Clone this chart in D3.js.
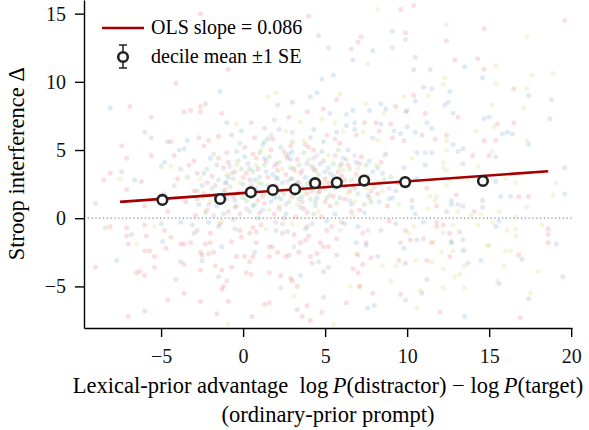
<!DOCTYPE html>
<html>
<head>
<meta charset="utf-8">
<script src="https://cdn.jsdelivr.net/npm/d3@7"></script>
<style>
  body { margin: 0; background: #fff; }
  svg { font-family: "Liberation Serif", "Times New Roman", serif; }
</style>
</head>
<body>
<div id="chart"></div>
<script>
/* Stroop interference vs lexical-prior advantage, scatter + OLS + decile means */

// decile means (x = bin mean, y = mean delta, se = standard error)
const decileX  = [-4.92, -1.40, 0.47, 1.81, 3.17, 4.39, 5.71, 7.38, 9.88, 14.62];
const decileY  = [1.34, 1.41, 1.90, 2.07, 2.12, 2.57, 2.61, 2.76, 2.65, 2.73];
const decileSE = [0.30, 0.22, 0.20, 0.20, 0.20, 0.20, 0.21, 0.22, 0.24, 0.30];

// OLS fit
const olsSlope = 0.086, olsIntercept = 1.845;
const olsRange = [-7.5, 18.6];

const xTicks = [-5, 0, 5, 10, 15, 20];
const yTicks = [-5, 0, 5, 10, 15];

// faint background points, grouped by colour, [x, y]
const redPts = [[-2.6,15.0],[4.0,14.8],[9.6,15.3],[10.4,15.6],[19.6,14.5],[14.7,13.9],[12.4,13.0],[7.2,13.3],[9.9,13.6],[6.6,12.4],[7.0,12.9],[12.9,11.6],[14.3,11.7],[14.7,10.9],[-0.9,10.9],[-4.1,9.9],[16.5,9.5],[10.4,9.0],[2.1,8.3],[3.0,8.5],[5.7,8.7],[9.3,8.2],[-6.9,8.2],[-3.6,7.8],[-3.2,7.9],[-2.6,8.2],[-2.3,8.4],[-2.6,7.8],[-1.3,7.7],[3.9,7.8],[4.9,8.0],[9.9,7.8],[11.1,7.7],[13.1,7.4],[-5.6,7.4],[2.8,7.4],[0.5,7.0],[8.1,7.0],[9.0,6.9],[7.4,7.0],[15.5,6.9],[16.5,7.0],[1.3,6.6],
  [-7.4,5.3],[-4.4,5.6],[-2.7,5.9],[-2.1,5.7],[-2.4,5.3],[-1.5,6.0],[-0.7,6.1],[-7.1,4.4],[-5.6,4.6],[-4.2,4.6],[0.7,5.9],[1.8,5.8],[5.1,6.1],[5.6,5.8],[6.9,6.1],[8.3,6.4],[9.8,5.7],[9.1,5.9],[10.9,6.1],[11.7,5.8],[12.4,6.1],[14.7,5.7],[15.4,5.7],[14.0,4.6],[15.0,4.6],[-1.0,4.8],[2.5,4.9],[4.0,5.2],[7.2,4.5],[-3.0,4.2],[0.8,4.4],[3.3,4.3],[6.0,4.0],
  [-8.5,2.8],[-8.1,3.3],[-6.2,2.7],[-7.1,2.1],[-5.0,1.7],[-4.0,2.9],[-3.5,1.2],[-2.8,3.3],[-2.2,0.6],[-1.7,2.4],[-1.2,3.7],[-0.6,1.6],[-0.2,0.3],[0.4,2.8],[0.9,3.6],[1.3,1.1],[1.7,2.2],[2.2,0.7],[2.6,3.2],[3.0,1.6],[3.4,2.6],[3.9,0.4],[4.2,3.8],[4.6,1.9],[5.0,2.9],[5.3,0.9],[5.8,3.4],[6.2,1.4],[6.7,2.4],[7.1,0.6],[7.6,3.1],[8.2,1.8],[8.8,0.9],[9.4,2.6],[10.3,1.3],[11.2,2.2],[11.8,0.9],[13.0,1.7],[14.6,1.3],[14.1,0.5],[17.4,1.6],[16.8,1.6],[-4.6,0.5],[-6.0,0.9],[-3.0,2.0],[0.0,3.0],[2.0,4.0],[4.4,2.4],[6.4,3.9],[1.0,0.4],[-1.3,1.3],[3.6,1.2],
  [-2.9,0.2],[-2.4,1.8],[-1.9,3.1],[-1.4,-0.4],[-1.1,2.1],[-0.5,3.4],[-0.2,-0.9],[0.3,1.9],[0.6,4.7],[1.1,-0.5],[1.5,3.0],[1.9,0.3],[2.3,2.0],[2.7,4.4],[3.1,-1.2],[3.5,3.3],[3.9,1.8],[4.3,5.0],[4.8,0.1],[5.2,2.6],[5.6,4.6],[6.0,-0.3],[6.5,2.0],[6.9,3.2],[7.3,-1.1],[7.8,2.0],[8.4,4.1],[8.9,-0.2],[-3.3,3.9],[-2.0,-1.1],[0.1,5.2],[2.9,5.3],[4.0,-1.3],[5.9,5.5],[1.2,1.6],[3.2,0.1],[4.4,3.5],[6.2,2.8],[-0.9,0.5],[2.1,3.5],[0.5,2.4],[5.0,1.2],
  [-2.8,1.4],[-2.2,2.6],[-1.6,1.7],[-0.9,4.1],[-0.4,0.9],[0.2,3.3],[0.9,1.3],[1.4,4.2],[2.0,2.4],[2.5,0.0],[3.1,3.6],[3.7,0.7],[4.2,2.0],[4.9,4.2],[5.5,1.6],[6.0,3.1],[6.6,0.5],[7.1,4.0],[7.7,1.5],[8.3,2.6],[1.7,5.0],[3.8,5.4],[-1.5,4.4],[5.1,-0.9],[0.6,-0.7],
  [-9.0,-3.6],[-7.0,-7.2],[-6.0,-6.8],[-6.5,-4.0],[-6.3,-3.9],[-6.0,-4.2],[-5.4,-3.6],[-5.4,-2.8],[-6.0,-2.4],[-5.7,-2.4],[-7.0,-1.9],[-7.1,-1.3],[-7.1,-0.7],[-8.1,-0.6],[-5.9,-1.3],[-6.0,-0.5],[-4.7,-2.2],[-4.1,-4.5],[-3.6,-5.5],[-3.6,-3.4],[-2.6,-6.1],[-2.6,-3.8],[-1.7,-3.5],[-1.3,-3.8],[-1.2,-5.0],[-1.3,-5.2],[-0.9,-6.1],[-0.7,-3.6],[-1.0,-4.6],[0.2,-4.0],[-0.4,-2.8],[-2.6,-2.5],[-1.8,-2.5],[-2.1,-2.6],[-2.5,-2.7],[-2.3,-1.9],[-2.0,-1.8],[-3.2,-1.8],[-3.6,-1.9],[-3.8,-1.9],[-4.4,-1.4],[-4.8,-0.9],[-2.8,-0.9],[-0.7,-1.7],[-0.1,-1.4],[0.1,-2.8],[0.55,-7.2],[1.3,-6.3],[1.6,-6.2],[3.3,-6.7],[3.6,-7.2],[4.1,-7.5],[3.9,-6.4],[4.8,-6.9],[4.9,-5.8],[9.6,-5.6],[7.9,-5.5],[0.5,-4.1],[1.6,-4.0],[2.3,-4.2],[3.0,-4.6],[3.3,-5.0],[2.9,-4.4],[4.9,-3.9],[7.1,-5.0],[6.7,-3.7],[7.0,-4.0],[7.3,-3.4],[9.5,-3.1],[9.9,-3.3],[7.8,-2.9],[7.0,-2.7],[5.7,-2.7],[4.9,-2.1],[5.2,-2.1],[4.5,-2.6],[4.1,-2.8],[4.2,-3.3],[3.4,-2.5],[2.8,-2.7],[2.6,-2.8],[2.1,-2.5],[1.6,-2.8],[1.6,-2.1],[1.8,-2.1],[0.6,-2.8],[0.4,-3.2],[3.5,-1.8],[3.8,-1.6],[5.7,-1.5],[7.5,-1.8],[9.6,-1.8],[4.7,-1.8],[2.4,-1.1],[3.9,-0.6],[5.4,-0.6],[9.9,-0.9],[0.8,-1.8],[0.4,-1.1],[0.8,-1.0],[12.0,-6.9],[16.9,-7.3],[11.2,-3.1],[12.6,-2.8],[16.8,-2.7],[11.0,-1.5],[11.5,-1.8],[12.6,-1.1],[13.2,-1.0],[10.2,-1.6],[18.6,-0.8],[18.6,-1.2],[18.6,-1.8],[11.8,-0.6],[11.8,-0.3],[12.2,-0.5],[-1.6,-7.0],[6.3,-6.2],[-4.6,-6.0]];

const bluePts = [[4.6,13.4],[9.1,13.7],[9.9,13.1],[5.2,12.5],[7.9,12.3],[6.7,11.6],[10.5,11.8],[13.5,11.1],[10.4,10.9],[11.4,10.9],[5.5,10.5],[4.8,10.2],[14.6,10.3],[-1.4,9.3],[11.0,9.6],[11.5,9.5],[4.5,9.2],[4.1,8.9],[17.4,9.0],[18.8,8.7],[10.5,8.6],[12.6,9.3],[12.5,8.5],[12.3,8.3],[-8.1,8.1],[8.4,8.4],[8.7,8.0],[6.3,7.6],[6.7,7.9],[7.7,7.9],[12.8,7.7],[5.3,7.7],[10.0,7.9],[14.7,7.3],[15.0,7.4],[18.7,7.3],[11.2,7.0],[-1.0,7.0],[1.9,7.2],[6.8,7.0],[6.3,6.8],[8.4,6.9],[9.2,6.4],[9.6,6.2],[10.0,6.7],[-6.0,6.3],[-5.6,5.9],[-4.6,5.6],[-3.4,5.7],[-0.1,6.4],[2.2,6.5],[3.0,6.3],[4.3,6.5],[5.7,6.3],[6.8,6.5],[7.9,5.9],[10.5,6.3],[11.5,6.6],[15.8,6.2],[16.1,6.3],[16.4,6.2],[17.4,5.4],[12.8,5.4],[13.1,4.9],[13.4,5.1],[15.4,4.5],[10.6,4.8],[11.1,4.8],[11.5,4.8],[11.1,3.9],[13.4,4.0],[19.6,3.7],[15.4,2.7],[1.2,5.4],[1.5,5.8],[-3.9,5.0],[-3.6,5.1],[-4.8,4.1],[-7.4,3.4],[-6.6,2.8],[-9.0,1.1],
  [-2.5,2.4],[-1.6,0.9],[-0.9,3.0],[-0.3,1.9],[0.3,4.0],[0.8,2.2],[1.4,3.4],[1.9,1.5],[2.4,2.6],[2.9,4.3],[3.5,0.8],[3.8,3.0],[4.5,1.5],[5.2,3.7],[5.6,2.2],[6.1,4.4],[6.6,1.0],[7.2,2.6],[7.7,4.2],[8.5,3.3],[9.1,1.5],[9.8,3.7],[10.6,2.9],[-3.8,3.6],[-2.0,4.4],[-1.2,0.3],[0.6,0.9],[3.2,2.0],[4.8,4.9],[-4.8,1.8],
  [-2.7,1.0],[-2.1,-0.3],[-1.6,3.9],[-1.0,1.4],[-0.6,-0.1],[0.0,2.5],[0.4,3.6],[0.9,0.0],[1.3,4.4],[1.7,1.2],[2.1,2.9],[2.6,0.3],[3.0,4.9],[3.4,1.4],[3.8,-0.8],[4.1,2.7],[4.7,4.0],[5.1,-0.2],[5.5,3.1],[5.9,1.5],[6.4,5.0],[6.8,2.2],[7.4,0.4],[7.9,3.4],[8.3,1.2],[8.7,4.7],[9.3,2.0],[-3.1,-0.5],[-0.4,4.9],[2.3,5.2],[4.9,5.6],[1.0,3.0],[3.6,2.2],
  [-2.4,3.3],[-1.8,0.2],[-1.1,2.6],[-0.5,1.3],[0.1,4.5],[0.7,2.8],[1.2,0.6],[1.8,3.2],[2.3,1.4],[2.8,4.7],[3.3,2.6],[3.9,4.0],[4.4,1.2],[5.0,3.4],[5.6,0.3],[6.2,2.3],[6.9,4.1],[7.6,1.7],[8.2,3.7],[8.9,1.4],[-0.2,5.5],[2.0,-0.9],[4.1,5.9],
  [15.7,1.6],[16.3,1.6],[19.6,1.8],[15.6,-0.2],[14.6,0.8],[13.4,0.9],[13.1,1.0],[12.7,1.0],[12.4,0.5],[10.5,0.3],[10.3,0.8],[12.7,1.3],
  [-7.7,-3.1],[-6.8,-1.2],[-3.8,-3.2],[-2.5,-3.1],[-1.5,-4.3],[-4.9,-1.7],[-5.0,-0.4],[-3.8,-0.3],[-3.0,-1.1],[-1.5,-0.6],[-1.3,-2.1],[-0.5,-0.8],[2.3,-5.1],[3.5,-4.2],[5.2,-3.6],[4.6,-3.2],[7.6,-6.6],[8.0,-6.4],[9.9,-6.0],[0.7,-2.5],[2.7,-1.0],[4.2,-0.4],[6.2,-0.4],[7.0,-0.6],[8.4,-0.9],[9.3,-0.4],[6.9,-1.8],[7.5,-2.0],[9.8,-2.2],[8.2,-2.8],[13.5,-7.2],[17.4,-5.9],[10.9,-5.5],[11.2,-4.5],[15.6,-4.8],[19.5,-4.3],[13.7,-3.3],[14.5,-3.1],[17.0,-3.0],[10.6,-1.6],[12.7,-1.8],[13.4,-1.6],[13.4,-2.4],[19.1,-1.9],[15.4,-0.6],[11.0,-0.3]];

const greenPts = [[-5.0,3.8],[-8.4,-0.7],[-2.8,2.0],[-2.2,3.6],[-1.5,2.8],[-0.8,2.3],[-0.3,4.2],[0.2,1.3],[0.6,3.4],[1.1,2.5],[1.6,4.5],[2.0,3.0],[2.5,1.8],[2.9,3.7],[3.3,2.3],[3.7,4.8],[4.1,1.4],[4.6,3.2],[5.0,2.2],[5.5,4.0],[6.0,2.7],[6.5,3.6],[7.0,1.8],[7.5,3.9],[8.0,2.3],[-1.8,4.7],[-3.4,3.0],[0.4,0.5],[1.3,5.6],[3.1,-2.1],[12.7,-1.7],[3.0,5.6],[5.8,5.0],[-0.5,0.8],[4.3,0.3],[9.0,3.0],[-4.2,2.4],[9.1,12.5],
  [-2.3,0.4],[-1.2,1.9],[-0.1,3.6],[0.7,1.0],[1.5,2.4],[2.2,4.1],[2.8,1.2],[3.4,3.9],[3.9,2.5],[4.4,0.9],[5.3,3.3],[5.7,1.1],[6.3,4.3],[7.2,3.0],[7.8,1.2],[8.6,2.8],[1.0,4.8],[-0.6,2.9],[2.4,-0.4],[4.7,2.0],
  [-1.9,2.2],[-0.7,3.3],[0.5,2.0],[1.3,3.9],[2.1,1.6],[2.9,2.9],[3.6,1.6],[4.3,3.6],[5.1,1.5],[5.9,3.8],[6.6,2.8],[7.4,1.0],[0.0,1.5],[2.6,4.6]];

const yellowPts = [[8.2,15.3],[7.6,11.3],[12.4,14.2],[17.3,13.3],[15.4,11.2],[18.9,10.6],[17.6,10.5],[12.3,10.3],[12.2,9.8],[15.4,9.9],[17.3,9.5],[11.3,9.0],[1.5,8.9],[2.0,9.2],[5.9,9.1],[9.8,8.9],[7.5,8.4],[15.2,8.3],[17.1,8.1],[8.6,7.7],[3.5,7.1],[4.8,7.3],[15.3,6.7],[14.2,6.4],[5.6,7.0],[-0.4,6.9],[17.3,5.7],[12.4,5.7],[12.4,5.0],[15.2,4.9],[10.3,4.4],[12.2,4.1],[12.2,3.7],[14.3,3.8],[12.4,3.5],[12.6,2.8],[13.7,2.8],[16.0,2.9],[16.6,2.6],[19.1,2.6],[12.4,2.4],[-7.5,2.9],[-4.4,3.8],[2.6,6.4],[6.1,6.4],[7.3,6.3],[8.2,5.7],[-1.0,3.2],[1.8,1.9],[4.9,2.6],[6.8,1.2],[8.6,4.6],[-2.4,1.5],
  [-2.6,2.9],[-1.3,-0.2],[-0.2,2.6],[0.8,3.9],[1.6,0.6],[2.4,3.6],[3.3,1.0],[4.0,4.3],[4.6,0.5],[5.4,2.4],[6.1,3.5],[6.7,0.2],[7.5,2.2],[8.1,3.9],[9.5,1.0],[1.1,5.0],[3.7,5.7],[5.9,-0.9],
  [-2.0,1.2],[-0.4,3.9],[0.9,2.6],[2.2,0.9],[3.2,3.4],[4.4,2.9],[5.2,4.6],[6.4,1.8],[7.0,3.6],[8.5,2.0],[1.4,1.8],[3.7,2.0],
  [18.9,1.7],[17.3,0.8],[15.6,0.5],[16.6,0.1],[13.9,0.2],[14.5,0.3],[11.7,1.3],[11.4,1.6],[11.3,0.7],[11.8,1.6],[13.1,0.5],
  [-6.5,-1.9],[-5.4,-0.6],[-0.9,-7.8],[3.1,-5.7],[5.5,-7.8],[6.5,-5.0],[7.1,-5.0],[8.5,-3.5],[9.0,-4.6],[9.3,-3.5],[6.9,-2.6],[10.6,-6.6],[10.8,-5.3],[12.2,-5.1],[13.5,-5.1],[12.9,-4.3],[13.2,-4.1],[15.5,-4.6],[15.9,-3.5],[18.0,-3.9],[17.5,-5.5],[12.2,-3.7],[13.5,-3.5],[10.5,-3.1],[11.5,-3.2],[12.8,-2.4],[12.1,-2.5],[13.5,-2.3],[14.9,-2.0],[16.0,-2.4],[16.3,-2.4],[11.6,-1.7],[12.2,-1.1],[12.8,-0.5],[10.1,-1.1],[15.0,-2.0],[18.2,-0.5],[16.6,-0.8],[16.6,-1.3],[16.1,-0.9],[15.2,-0.3],[14.3,-0.5],[10.4,-0.6],[1.4,-0.8],[3.0,-0.4]];

const purplePts = [[-1.0,2.6],[0.7,1.7],[2.7,2.7],[3.6,3.5],[5.3,1.7],[6.8,4.6],[-2.1,1.0],[1.7,6.1],[8.9,2.2],[4.3,4.4],[2.0,-0.3],[7.6,-0.9],
  [0.2,0.7],[1.9,3.8],[3.0,2.9],[4.5,4.6],[5.8,2.9],[6.5,1.3],[-0.8,3.8],[2.6,1.0]];

const groups = [
  {pts: redPts, color: "#d62728"},
  {pts: bluePts, color: "#1f77b4"},
  {pts: greenPts, color: "#2ca02c"},
  {pts: yellowPts, color: "#bcbd22"},
  {pts: purplePts, color: "#9467bd"}
];

const width = 589, height = 430,
      margin = ({top: 0, right: 17, bottom: 102, left: 84});

let svg = d3.select("#chart")
    .append("svg")
    .attr("width", width)
    .attr("height", height);

let x = d3.scaleLinear()
    .domain([-9.7, 20.05])
    .range([margin.left, width - margin.right]);

let y = d3.scaleLinear()
    .domain([-8.05, 16])
    .range([height - margin.bottom, margin.top]);

// scatter cloud
for (let g of groups) {
  svg.append("g")
    .selectAll("circle")
    .data(g.pts)
    .join("circle")
      .attr("cx", d => x(d[0]))
      .attr("cy", d => y(d[1]))
      .attr("r", 2.5)
      .attr("fill", g.color)
      .attr("fill-opacity", 0.15);
}

// zero line
svg.append("line")
    .attr("x1", x.range()[0]).attr("x2", x.range()[1])
    .attr("y1", y(0)).attr("y2", y(0))
    .attr("stroke", "#888")
    .attr("stroke-width", 1.2)
    .attr("stroke-dasharray", "1.2,2.6");

// OLS line
svg.append("line")
    .attr("x1", x(olsRange[0])).attr("y1", y(olsIntercept + olsSlope * olsRange[0]))
    .attr("x2", x(olsRange[1])).attr("y2", y(olsIntercept + olsSlope * olsRange[1]))
    .attr("stroke", "#a50000")
    .attr("stroke-width", 2.6);

// decile means with error bars
const deciles = decileX.map((d, i) => ({x: d, y: decileY[i], se: decileSE[i]}));

let dec = svg.append("g")
    .selectAll("g")
    .data(deciles)
    .join("g");

dec.append("line")
    .attr("x1", d => x(d.x)).attr("x2", d => x(d.x))
    .attr("y1", d => y(d.y - d.se)).attr("y2", d => y(d.y + d.se))
    .attr("stroke", "#222").attr("stroke-width", 1.5);

dec.append("circle")
    .attr("cx", d => x(d.x))
    .attr("cy", d => y(d.y))
    .attr("r", 4.8)
    .attr("fill", "#fff")
    .attr("stroke", "#222")
    .attr("stroke-width", 2.6);

// axes
const xAxis = g => g
    .attr("transform", `translate(0, ${height - margin.bottom})`)
    .call(d3.axisBottom(x).tickValues(xTicks).tickSize(9).tickSizeOuter(0).tickPadding(12));

const yAxis = g => g
    .attr("transform", `translate(${margin.left}, 0)`)
    .call(d3.axisLeft(y).tickValues(yTicks).tickSize(9).tickSizeOuter(0).tickPadding(9));

for (let ax of [xAxis, yAxis]) {
  let g = svg.append("g").call(ax);
  g.selectAll("path, line").attr("stroke", "#000").attr("stroke-width", 1.4);
  g.selectAll("text")
    .attr("font-family", "'Liberation Serif', 'Times New Roman', serif")
    .attr("font-size", 20)
    .attr("fill", "#111");
}

// axis titles
svg.append("text")
    .attr("transform", `translate(24, ${y(4)}) rotate(-90)`)
    .attr("text-anchor", "middle")
    .attr("font-size", 22.5)
    .text("Stroop interference Δ");

let xl = svg.append("text")
    .attr("x", (x.range()[0] + x.range()[1]) / 2)
    .attr("y", 393)
    .attr("text-anchor", "middle")
    .attr("font-size", 22.5);
xl.append("tspan").text("Lexical-prior advantage\u00a0 log\u2009");
xl.append("tspan").attr("font-style", "italic").text("P");
xl.append("tspan").text("(distractor) \u2212 log\u2009");
xl.append("tspan").attr("font-style", "italic").text("P");
xl.append("tspan").text("(target)");

svg.append("text")
    .attr("x", (x.range()[0] + x.range()[1]) / 2)
    .attr("y", 422)
    .attr("text-anchor", "middle")
    .attr("font-size", 22.5)
    .text("(ordinary-prior prompt)");

// legend
let leg = svg.append("g");
leg.append("line")
    .attr("x1", 102).attr("x2", 144).attr("y1", 28).attr("y2", 28)
    .attr("stroke", "#a50000").attr("stroke-width", 2.6);
leg.append("text").attr("x", 151).attr("y", 34).attr("font-size", 20).text("OLS slope = 0.086");

leg.append("line")
    .attr("x1", 123).attr("x2", 123).attr("y1", 45).attr("y2", 68)
    .attr("stroke", "#222").attr("stroke-width", 1.5);
for (let cy of [45, 68]) {
  leg.append("line")
    .attr("x1", 119).attr("x2", 127).attr("y1", cy).attr("y2", cy)
    .attr("stroke", "#222").attr("stroke-width", 1.5);
}
leg.append("circle")
    .attr("cx", 123).attr("cy", 57).attr("r", 4.8)
    .attr("fill", "#fff").attr("stroke", "#222").attr("stroke-width", 2.6);
leg.append("text").attr("x", 151).attr("y", 63).attr("font-size", 20).text("decile mean ±1 SE");
</script>
</body>
</html>
